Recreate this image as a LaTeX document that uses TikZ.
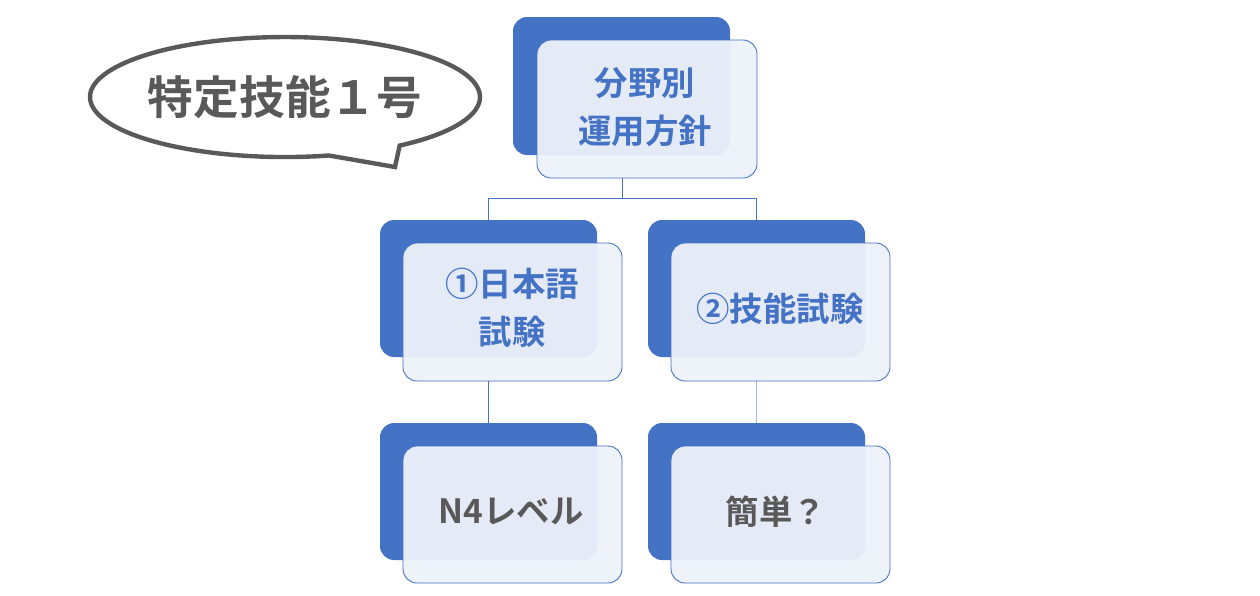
\documentclass[tikz,border=0pt]{standalone}
\usepackage{fontspec}
\setmainfont{Noto Sans CJK JP}[BoldFont={Noto Sans CJK JP Bold}]
\usetikzlibrary{positioning}

\definecolor{accent}{HTML}{4472C4}
\definecolor{paleblue}{HTML}{EDF1F9}
\definecolor{txtgray}{HTML}{595959}

\tikzset{
  back/.style={fill=accent, rounded corners=8pt},
  front/.style={draw=accent, fill=paleblue, fill opacity=0.95, text opacity=1,
    rounded corners=8pt, line width=0.5pt},
  label/.style={font=\bfseries\fontsize{19}{27}\selectfont, align=center},
  link/.style={draw=accent, line width=0.5pt}
}

\begin{document}
\begin{tikzpicture}[x=0.02cm,y=-0.02cm]
\useasboundingbox (0,0) rectangle (1260,595);

% speech bubble
\draw[txtgray, line width=2.5pt, fill=white] (328.9,155.5)
  arc[start angle=77, end angle=414, x radius=195, y radius=60] -- (395,167) -- cycle;
\node (title) at (285,97) [txtgray, font=\bfseries\fontsize{26}{30}\selectfont] {特定技能１号};

% boxes
\fill[back] (513,17) rectangle (730,155);
\draw[front] (537,40) rectangle (757,178);
\node (top) at (645,107) [label, accent] {分野別\\運用方針};

\fill[back] (380,220) rectangle (597,357);
\draw[front] (403,243) rectangle (622,381);
\node (jp) at (512,308) [label, accent] {①日本語\\試験};

\fill[back] (648,220) rectangle (865,357);
\draw[front] (671,243) rectangle (890,381);
\node (skill) at (780,309) [label, accent] {②技能試験};

\fill[back] (380,423) rectangle (597,560);
\draw[front] (403,446) rectangle (622,583);
\node (n4) at (511,512) [label, txtgray] {N4レベル};

\fill[back] (648,423) rectangle (865,560);
\draw[front] (671,446) rectangle (890,583);
\node (easy) at (776,512) [label, txtgray] {簡単？};

% connectors
\coordinate (t0) at (622,178);
\coordinate (tl) at (488,243);
\coordinate (tr) at (756,243);
\draw[link] (t0) -- (622,198) -| (tl);
\draw[link] (622,198) -| (tr);
\coordinate (ml) at (488,381);
\coordinate (bl) at (488,446);
\coordinate (mr) at (756,381);
\coordinate (br) at (756,446);
\draw[link] (ml) -- (bl);
\draw[link, draw opacity=0.5] (mr) -- (br);
\end{tikzpicture}
\end{document}
